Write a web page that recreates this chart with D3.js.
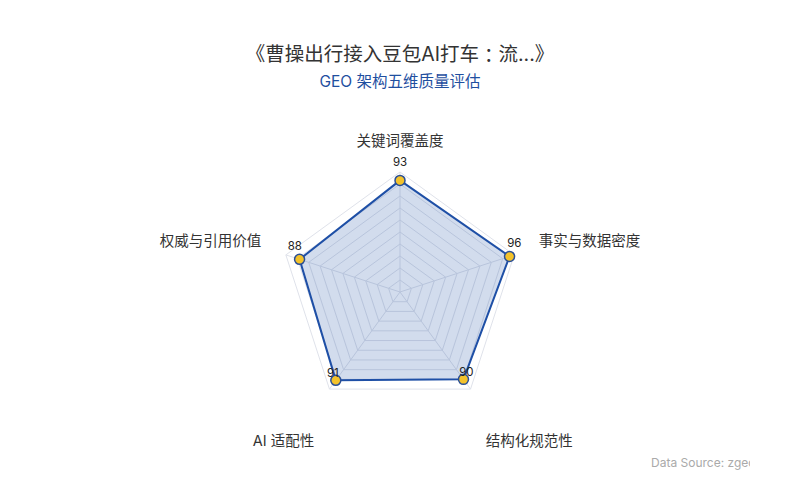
<!DOCTYPE html>
<html>
<head>
<meta charset="utf-8">
<script src="https://cdn.jsdelivr.net/npm/d3@7"></script>
<style>
    body { margin: 0; background: #fff; }
    svg { font-family: Inter, "Noto Sans CJK SC", sans-serif; }
</style>
</head>
<body>
<svg id="chart" width="800" height="500"></svg>
<script>
/**
 * Data.
 */
const titleText = '《曹操出行接入豆包AI打车：流...》',
    subtitleText = 'GEO 架构五维质量评估',
    sourceText = 'Data Source: zgeo.ai';

const dimensions = ['关键词覆盖度', '事实与数据密度', '结构化规范性', 'AI 适配性', '权威与引用价值'];
const scores = [93, 96, 90, 91, 88];
const maxScore = 100;
const levels = [10, 20, 30, 40, 50, 60, 70, 80, 90, 100];

/**
 * Visual configs.
 */
const width = 800, height = 500,
    cx = 400, cy = 292,
    radius = 120,
    nameRadius = 146;

const svg = d3.select('#chart');

const rScale = d3.scaleLinear().domain([0, maxScore]).range([0, radius]);
const angleScale = d3.scaleLinear().domain([0, dimensions.length]).range([0, 2 * Math.PI]);

// Point on the radar for axis index i and value v
function point(i, v) {
    const a = angleScale(i);
    return [cx + Math.sin(a) * rScale(v), cy - Math.cos(a) * rScale(v)];
}

const line = d3.line().curve(d3.curveLinearClosed);

/**
 * Titles.
 */
const title = svg.append('text')
    .attr('x', width / 2).attr('y', 54)
    .attr('text-anchor', 'middle').attr('dominant-baseline', 'central')
    .attr('font-size', 19.5).attr('fill', '#333');

// The full-width colon is centred in its box in the original, so give it a font that does that
titleText.split(/(：)/).forEach(part => {
    title.append('tspan')
        .attr('font-family', part === '：' ? '"Noto Sans CJK JP"' : null)
        .text(part);
});

svg.append('text')
    .attr('x', width / 2).attr('y', 81)
    .attr('text-anchor', 'middle').attr('dominant-baseline', 'central')
    .attr('font-size', 15.5).attr('fill', '#1f4f9f')
    .text(subtitleText);

/**
 * Grid.
 */
const grid = svg.append('g').attr('class', 'grid');

grid.selectAll('.level').data(levels)
    .enter().append('path')
    .attr('class', 'level')
    .attr('d', lv => line(dimensions.map((_, i) => point(i, lv))))
    .attr('fill', 'none')
    .attr('stroke', '#dfe2ea')
    .attr('stroke-width', 1);

grid.selectAll('.spoke').data(dimensions)
    .enter().append('line')
    .attr('class', 'spoke')
    .attr('x1', cx).attr('y1', cy)
    .attr('x2', (_, i) => point(i, maxScore)[0])
    .attr('y2', (_, i) => point(i, maxScore)[1])
    .attr('stroke', '#dfe2ea')
    .attr('stroke-width', 1);

/**
 * Axis names.
 */
svg.append('g').attr('class', 'names')
    .selectAll('text').data(dimensions)
    .enter().append('text')
    .each(function(d, i) {
        const a = angleScale(i),
            s = Math.sin(a), c = Math.cos(a);
        d3.select(this)
            .attr('x', cx + s * nameRadius)
            .attr('y', cy - c * nameRadius + (c > 0 ? -6 : 30))
            .attr('text-anchor', Math.abs(s) < 0.01 ? 'middle' : s > 0 ? 'start' : 'end');
    })
    .attr('dominant-baseline', 'central')
    .attr('font-size', 14.5)
    .attr('fill', '#333')
    .text(d => d);

/**
 * Data series.
 */
const series = svg.append('g').attr('class', 'series');

series.append('path')
    .attr('d', line(scores.map((v, i) => point(i, v))))
    .attr('fill', 'rgba(30, 79, 163, 0.2)')
    .attr('stroke', '#1e4fa6')
    .attr('stroke-width', 2)
    .attr('stroke-linejoin', 'round');

series.selectAll('circle').data(scores)
    .enter().append('circle')
    .attr('cx', (v, i) => point(i, v)[0])
    .attr('cy', (v, i) => point(i, v)[1])
    .attr('r', 5)
    .attr('fill', '#f3c22b')
    .attr('stroke', '#2a4f96')
    .attr('stroke-width', 1.5);

// Value labels, nudged outward a little and lifted above the dot
series.selectAll('.value').data(scores)
    .enter().append('text')
    .attr('class', 'value')
    .attr('x', (v, i) => point(i, v)[0] + 5 * Math.sin(angleScale(i)))
    .attr('y', (v, i) => point(i, v)[1] - 12 - 6 * Math.cos(angleScale(i)))
    .attr('text-anchor', 'middle').attr('dominant-baseline', 'central')
    .attr('font-size', 11.5).attr('fill', '#222')
    .text(v => v);

/**
 * Source note, cut off at the right like the original.
 */
svg.append('clipPath').attr('id', 'source-clip')
    .append('rect').attr('x', 0).attr('y', 0).attr('width', 750).attr('height', height);

svg.append('text')
    .attr('clip-path', 'url(#source-clip)')
    .attr('x', 651).attr('y', 462)
    .attr('dominant-baseline', 'central')
    .attr('font-size', 12).attr('fill', '#aaa')
    .text(sourceText);
</script>
</body>
</html>
